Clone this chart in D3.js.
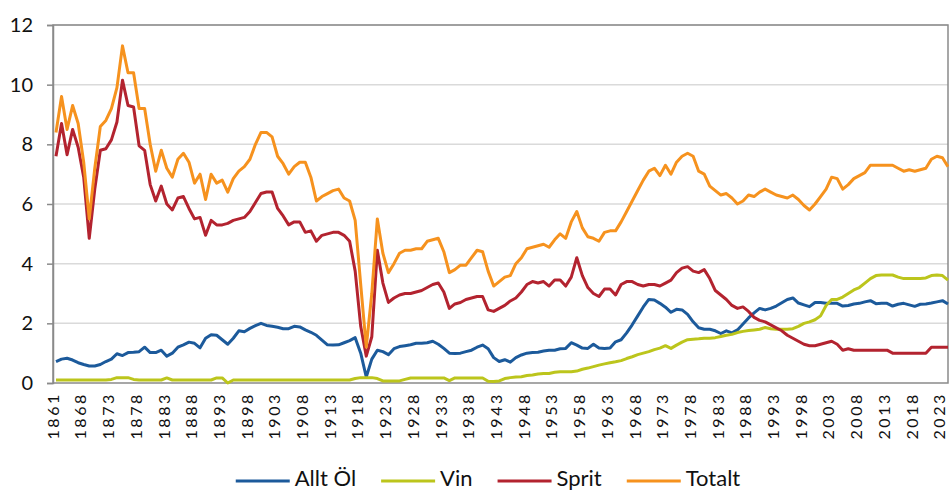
<!DOCTYPE html>
<html lang="sv">
<head>
    <meta charset="UTF-8">
    <title>Alkoholkonsumtion</title>
    <script src="https://d3js.org/d3.v7.min.js"></script>
    <style>
        body { margin: 0; background: #fff; }
        svg { display: block; font-family: Lato, "Open Sans", sans-serif; }
    </style>
</head>
<body>
<div id="grafico"></div>
<script>
    // kategorier: 1861 och sedan 1864-2024
    const years = [1861].concat(d3.range(1864, 2025))

    const allt_ol = [
        0.72, 0.8, 0.83, 0.77, 0.68, 0.62, 0.57, 0.57, 0.62, 0.72,
        0.8, 0.98, 0.92, 1.02, 1.03, 1.05, 1.2, 1.02, 1.02, 1.1,
        0.9, 1.0, 1.2, 1.28, 1.37, 1.33, 1.18, 1.5, 1.62, 1.6,
        1.45, 1.3, 1.5, 1.75, 1.72, 1.83, 1.92, 2.0, 1.93, 1.9,
        1.87, 1.82, 1.82, 1.9, 1.88, 1.78, 1.7, 1.6, 1.44, 1.28,
        1.27, 1.28, 1.35, 1.42, 1.52, 1.0, 0.2, 0.8, 1.1, 1.05,
        0.95, 1.15, 1.22, 1.25, 1.28, 1.33, 1.33, 1.35, 1.4, 1.3,
        1.16, 1.0, 0.99, 1.0, 1.05, 1.1, 1.2, 1.27, 1.15, 0.85,
        0.72, 0.78, 0.7, 0.85, 0.94, 1.0, 1.02, 1.03, 1.07, 1.1,
        1.1, 1.15, 1.16, 1.35, 1.27, 1.17, 1.16, 1.3, 1.17, 1.16,
        1.17, 1.38, 1.45, 1.68, 1.95, 2.25, 2.55, 2.8, 2.78, 2.67,
        2.54, 2.37, 2.47, 2.45, 2.3, 2.05, 1.85, 1.8, 1.8, 1.75,
        1.66, 1.75, 1.68, 1.78, 1.98, 2.18, 2.35, 2.5, 2.45, 2.5,
        2.58, 2.69, 2.8, 2.85, 2.68, 2.62, 2.56, 2.7, 2.7, 2.67,
        2.67, 2.67, 2.58, 2.6, 2.65, 2.67, 2.72, 2.76, 2.66, 2.67,
        2.67, 2.58, 2.64, 2.67, 2.62, 2.57, 2.64, 2.65, 2.68, 2.72,
        2.76, 2.65
    ]

    const vin = [
        0.1, 0.1, 0.1, 0.1, 0.1, 0.1, 0.1, 0.1, 0.1, 0.1,
        0.12, 0.18, 0.18, 0.18, 0.12, 0.1, 0.1, 0.1, 0.1, 0.1,
        0.17, 0.1, 0.1, 0.1, 0.1, 0.1, 0.1, 0.1, 0.1, 0.17,
        0.17, 0.0, 0.1, 0.1, 0.1, 0.1, 0.1, 0.1, 0.1, 0.1,
        0.1, 0.1, 0.1, 0.1, 0.1, 0.1, 0.1, 0.1, 0.1, 0.1,
        0.1, 0.1, 0.1, 0.1, 0.15, 0.18, 0.18, 0.18, 0.15, 0.07,
        0.07, 0.07, 0.07, 0.12, 0.17, 0.17, 0.17, 0.17, 0.17, 0.17,
        0.17, 0.08, 0.17, 0.17, 0.17, 0.17, 0.17, 0.17, 0.06, 0.05,
        0.07, 0.15, 0.18, 0.2, 0.21, 0.25, 0.27, 0.3, 0.32, 0.32,
        0.36, 0.38, 0.38, 0.38, 0.4, 0.46, 0.5, 0.55, 0.6, 0.64,
        0.68, 0.71, 0.75, 0.82, 0.88, 0.95, 1.0, 1.05, 1.12, 1.17,
        1.25, 1.16, 1.27, 1.37, 1.45, 1.47, 1.48, 1.5, 1.5, 1.52,
        1.56, 1.6, 1.63, 1.69, 1.73, 1.76, 1.78, 1.8, 1.86, 1.82,
        1.8, 1.8, 1.8, 1.82, 1.9, 2.0, 2.05, 2.12, 2.25, 2.6,
        2.8, 2.8, 2.88, 3.0, 3.12, 3.2, 3.35, 3.5, 3.6, 3.62,
        3.62, 3.62, 3.55, 3.5, 3.5, 3.5, 3.5, 3.52, 3.6, 3.62,
        3.6, 3.45
    ]

    const sprit = [
        7.6, 8.7, 7.65, 8.5, 7.9, 6.9, 4.85, 6.5, 7.8, 7.85,
        8.15, 8.75, 10.15, 9.3, 9.25, 7.95, 7.8, 6.65, 6.1, 6.6,
        6.0, 5.8, 6.2, 6.25, 5.85, 5.5, 5.55, 4.95, 5.45, 5.3,
        5.3, 5.35, 5.45, 5.5, 5.55, 5.75, 6.05, 6.35, 6.4, 6.4,
        5.85, 5.6, 5.3, 5.4, 5.4, 5.05, 5.1, 4.75, 4.95, 5.0,
        5.05, 5.05, 4.95, 4.75, 3.75, 1.9, 0.9, 1.55, 4.45, 3.35,
        2.7, 2.85, 2.95, 3.0, 3.0, 3.05, 3.1, 3.2, 3.3, 3.35,
        3.05, 2.5, 2.65, 2.7, 2.8, 2.85, 2.9, 2.9, 2.45, 2.4,
        2.5, 2.6, 2.75, 2.85, 3.05, 3.3, 3.4, 3.35, 3.4, 3.25,
        3.45, 3.45, 3.25, 3.55, 4.2, 3.6, 3.2, 3.0, 2.9, 3.15,
        3.15, 2.95, 3.3, 3.4, 3.4, 3.3, 3.25, 3.3, 3.3, 3.25,
        3.35, 3.45, 3.7, 3.85, 3.9, 3.75, 3.7, 3.8, 3.5, 3.1,
        2.95, 2.8, 2.6, 2.5, 2.55, 2.4, 2.2, 2.1, 2.05, 1.95,
        1.85, 1.75, 1.6, 1.5, 1.4, 1.3, 1.25, 1.25, 1.3, 1.35,
        1.4, 1.3, 1.1, 1.15, 1.1, 1.1, 1.1, 1.1, 1.1, 1.1,
        1.1, 1.0, 1.0, 1.0, 1.0, 1.0, 1.0, 1.0, 1.2, 1.2,
        1.2, 1.2
    ]

    const totalt = [
        8.4, 9.6, 8.5, 9.3, 8.7, 7.4, 5.5, 7.2, 8.6, 8.8,
        9.2, 9.9, 11.3, 10.4, 10.4, 9.2, 9.2, 8.0, 7.1, 7.8,
        7.2, 6.9, 7.5, 7.7, 7.4, 6.7, 7.0, 6.15, 7.0, 6.7,
        6.8, 6.4, 6.85, 7.1, 7.25, 7.5, 8.0, 8.4, 8.4, 8.25,
        7.6, 7.35, 7.0, 7.25, 7.4, 7.4, 6.9, 6.1, 6.25, 6.35,
        6.45, 6.5, 6.2, 6.1, 5.45, 3.3, 1.2, 3.0, 5.5, 4.35,
        3.7, 4.0, 4.35, 4.45, 4.45, 4.5, 4.5, 4.75, 4.8, 4.85,
        4.4, 3.7, 3.8, 3.95, 3.95, 4.2, 4.45, 4.4, 3.75, 3.25,
        3.4, 3.55, 3.6, 4.0, 4.2, 4.5, 4.55, 4.6, 4.65, 4.55,
        4.8, 5.0, 4.85, 5.4, 5.75, 5.2, 4.9, 4.85, 4.75, 5.05,
        5.1, 5.1, 5.4, 5.75, 6.1, 6.45, 6.8, 7.1, 7.2, 6.95,
        7.3, 7.0, 7.4, 7.6, 7.7, 7.6, 7.1, 7.0, 6.6, 6.45,
        6.3, 6.35, 6.2, 6.0, 6.1, 6.3, 6.25, 6.4, 6.5, 6.4,
        6.3, 6.25, 6.2, 6.3, 6.15, 5.95, 5.8, 6.0, 6.25, 6.5,
        6.9, 6.85, 6.5, 6.65, 6.85, 6.95, 7.05, 7.3, 7.3, 7.3,
        7.3, 7.3, 7.2, 7.1, 7.15, 7.1, 7.15, 7.2, 7.5, 7.6,
        7.55, 7.25
    ]

    const serieNamn = ['Allt Öl', 'Vin', 'Sprit', 'Totalt']
    const serieData = [allt_ol, vin, sprit, totalt]
    const colors = ['#1c5a9b', '#bcc51c', '#b3232f', '#f6921e']
    const yTicks = [0, 2, 4, 6, 8, 10, 12]

    const W = 949, H = 491
    const pLeft = 53, pRight = 948, pTop = 25, pBottom = 383

    const svg = d3.select('#grafico')
        .append('svg')
        .attr('width', W)
        .attr('height', H)

    const x = d3.scalePoint().domain(years).range([56, pRight])
    const y = d3.scaleLinear().domain([0, 12]).range([pBottom, pTop])

    // stödlinjer
    svg.append('g')
        .selectAll('line')
        .data(yTicks.filter(d => d > 0))
        .enter()
        .append('line')
        .attr('x1', pLeft)
        .attr('x2', pRight)
        .attr('y1', d => y(d))
        .attr('y2', d => y(d))
        .style('stroke', '#dadada')
        .style('stroke-width', 1.5)

    svg.append('rect')
        .attr('x', pLeft)
        .attr('y', pTop)
        .attr('width', pRight - pLeft)
        .attr('height', pBottom - pTop)
        .style('fill', 'none')
        .style('stroke', '#8a8a8a')
        .style('stroke-width', 1.5)

    const yAxis = d3.axisLeft(y).tickValues(yTicks).tickSize(6).tickPadding(14)
    const gy = svg.append('g')
        .attr('transform', `translate(${pLeft}, 0)`)
        .call(yAxis)
    gy.select('.domain').style('stroke', '#8a8a8a').style('stroke-width', 1.5)
    gy.selectAll('.tick line').style('stroke', '#8a8a8a').style('stroke-width', 1.5)
    gy.selectAll('.tick text')
        .style('font-size', '20px')
        .style('font-family', 'Lato, sans-serif')
        .style('fill', '#111')

    // x-etiketter, var femte kategori
    svg.append('g')
        .selectAll('text')
        .data(years.filter((d, i) => i % 5 === 0))
        .enter()
        .append('text')
        .attr('transform', d => `translate(${x(d) - 3}, 392) rotate(-90)`)
        .attr('dy', '0.36em')
        .attr('text-anchor', 'end')
        .style('font-size', '16px')
        .style('letter-spacing', '2.6px')
        .style('fill', '#111')
        .text(d => d)

    const line = d3.line()
        .x((d, i) => x(years[i]))
        .y(d => y(d))

    svg.append('g')
        .selectAll('path')
        .data(serieData)
        .enter()
        .append('path')
        .attr('d', d => line(d))
        .style('fill', 'none')
        .style('stroke', (d, i) => colors[i])
        .style('stroke-width', 3)
        .style('stroke-linejoin', 'round')

    // förklaring
    const legend = svg.append('g')
    let lx = 0
    serieNamn.forEach((namn, i) => {
        const g = legend.append('g').attr('transform', `translate(${lx}, 0)`)
        g.append('line')
            .attr('x1', 0).attr('x2', 54)
            .attr('y1', 481).attr('y2', 481)
            .style('stroke', colors[i])
            .style('stroke-width', 3)
        const t = g.append('text')
            .attr('x', 59)
            .attr('y', 486)
            .style('font-size', '22px')
            .style('fill', '#111')
            .text(namn)
        lx += 59 + t.node().getComputedTextLength() + 25
    })
    const bredd = lx - 25
    legend.attr('transform', `translate(${488 - bredd / 2}, 0)`)
</script>
</body>
</html>
